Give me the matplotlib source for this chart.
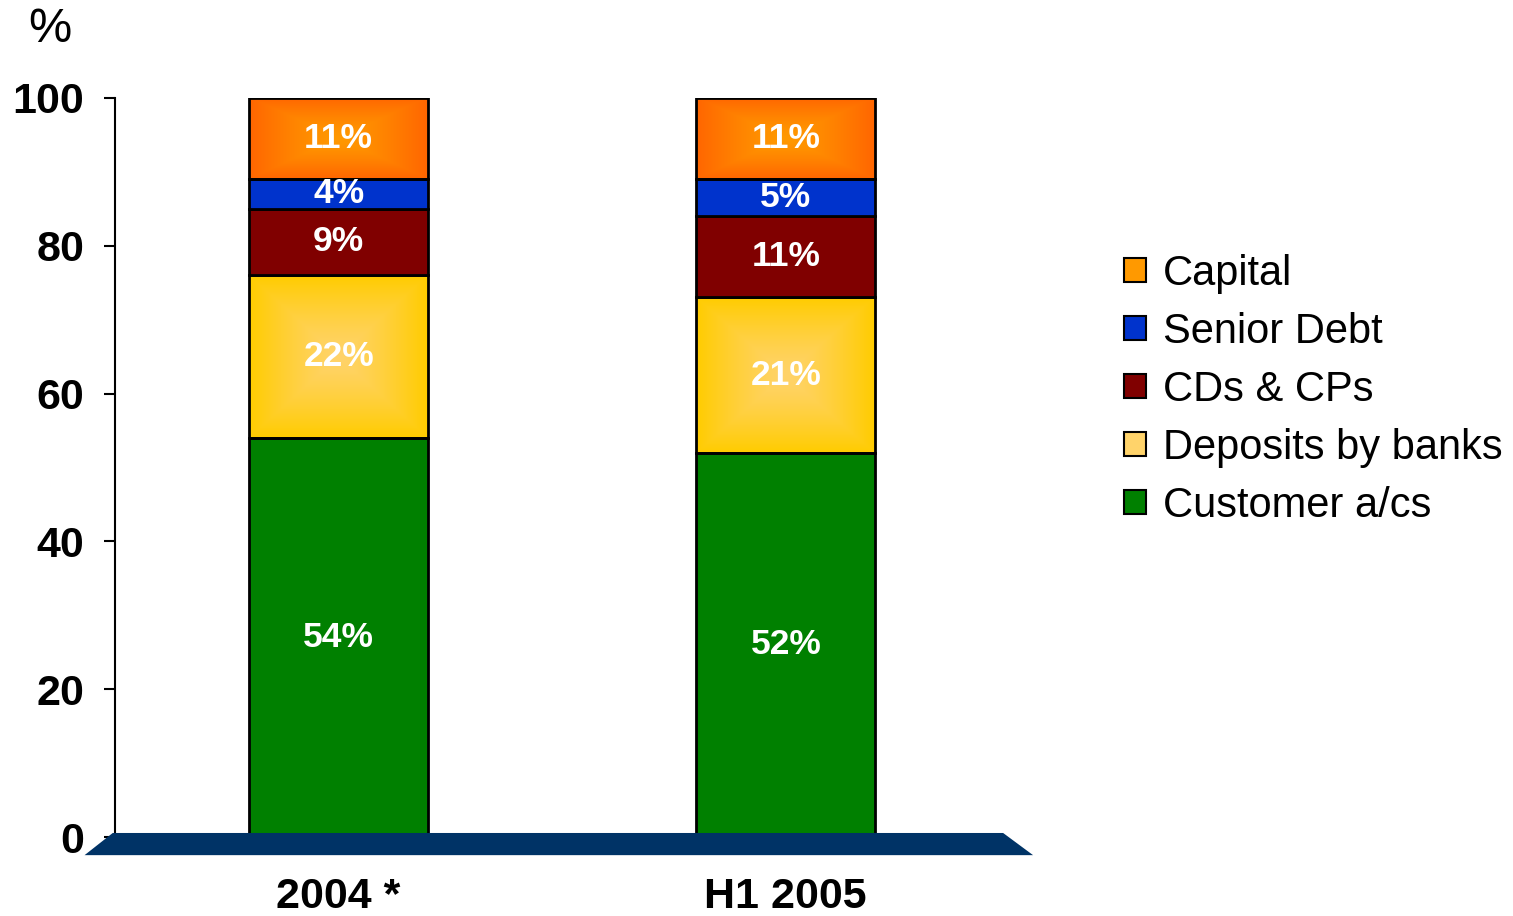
import numpy as np
import matplotlib
matplotlib.use("Agg")
import matplotlib.pyplot as plt
from matplotlib.patches import Polygon, Rectangle
from matplotlib.colors import to_rgb

plt.rcParams['font.family'] = ['Liberation Sans', 'DejaVu Sans']

# datos
categories = ["2004 *", "H1 2005"]
series = ["Customer a/cs", "Deposits by banks", "CDs & CPs", "Senior Debt", "Capital"]
values = {
    "Customer a/cs": [54, 52],
    "Deposits by banks": [22, 21],
    "CDs & CPs": [9, 11],
    "Senior Debt": [4, 5],
    "Capital": [11, 11],
}
yticks = [0, 20, 40, 60, 80, 100]

# colores: (borde, centro) para los degradados
colors = {
    "Customer a/cs": ("#008000", "#008000"),
    "Deposits by banks": ("#FFCC00", "#FFD36A"),
    "CDs & CPs": ("#800000", "#800000"),
    "Senior Debt": ("#0033CC", "#0033CC"),
    "Capital": ("#FF6600", "#FF9900"),
}

fig = plt.figure(figsize=(15.13, 9.16), dpi=100)
ax = fig.add_axes([0.076, 0.0862, 0.587, 0.807])

x = np.arange(len(categories))
width = 0.40


def gradient_fill(ax, x0, y0, w, h, c_edge, c_center):
    n = 100
    u = np.linspace(-1, 1, n)
    U, V = np.meshgrid(u, u)
    t = np.clip(np.maximum(np.abs(U), np.abs(V)) ** 1.3, 0, 1)
    e = np.array(to_rgb(c_edge))
    c = np.array(to_rgb(c_center))
    img = c[None, None, :] * (1 - t[..., None]) + e[None, None, :] * t[..., None]
    im = ax.imshow(img, extent=[x0, x0 + w, y0, y0 + h], aspect='auto',
                   origin='lower', zorder=2, interpolation='bilinear')
    clip = Rectangle((x0, y0), w, h, transform=ax.transData)
    im.set_clip_path(clip)


bottom = np.zeros(len(categories))
for s in series:
    vals = np.array(values[s], dtype=float)
    ce, cc = colors[s]
    bars = ax.bar(x, vals, width, bottom=bottom, color=ce, edgecolor='black',
                  linewidth=2, label=s, zorder=3)
    if ce != cc:
        for b, v, xi in zip(bottom, vals, x):
            gradient_fill(ax, xi - width / 2, b, width, v, ce, cc)
        for bar in bars:
            bar.set_facecolor('none')
    for xi, b, v in zip(x, bottom, vals):
        ax.text(xi, b + v / 2, f"{int(v)}%", ha='center', va='center',
                color='white', fontsize=25.5, fontweight='bold', zorder=5)
    bottom += vals

# suelo 3D
floor = Polygon([(-0.505, 0.55), (1.486, 0.55), (1.553, -2.45), (-0.568, -2.45)],
                closed=True, facecolor='#003366', edgecolor='none', zorder=4,
                clip_on=False)
ax.add_patch(floor)

ax.set_xlim(-0.5, 1.486)
ax.set_ylim(0, 100)
ax.set_yticks(yticks)
ax.set_yticklabels([str(t) for t in yticks], fontsize=31, fontweight='bold')
ax.set_xticks(x)
ax.set_xticklabels(categories, fontsize=31, fontweight='bold')
ax.tick_params(axis='x', length=0, pad=29)
ax.tick_params(axis='y', length=8, width=1.5, pad=14)
for sp in ['top', 'right', 'bottom']:
    ax.spines[sp].set_visible(False)
ax.spines['left'].set_linewidth(1.5)

fig.text(0.033, 0.968, "%", fontsize=35, ha='center', va='center')

handles, labels = ax.get_legend_handles_labels()
leg = fig.legend(handles[::-1], labels[::-1], loc='upper left',
                 bbox_to_anchor=(0.732, 0.741), fontsize=30, frameon=False,
                 handlelength=0.53, handleheight=0.53, handletextpad=0.4,
                 labelspacing=0.43, borderaxespad=0)
leg_colors = [colors[s][1] for s in series][::-1]
for h, c in zip(leg.legend_handles, leg_colors):
    h.set_facecolor(c)
    h.set_edgecolor('black')
    h.set_linewidth(1.5)

fig.savefig("out.png", dpi=100)
